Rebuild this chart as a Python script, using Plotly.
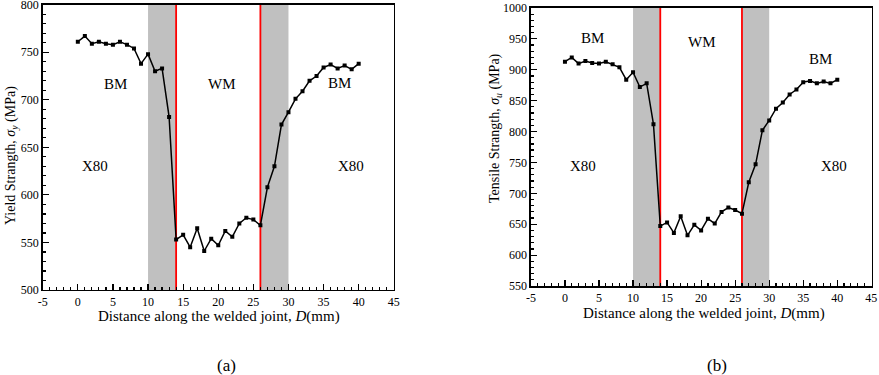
import plotly.graph_objects as go

distance = list(range(0, 41))
yield_strength = [761, 767, 759, 761, 759, 758, 761, 758, 754, 738, 748, 730, 733, 682,
                  553, 558, 545, 565, 541, 554, 547, 562, 556, 570, 576, 574, 568,
                  608, 630, 674, 687, 701, 709, 720, 725, 734, 737, 733, 736, 732, 738]
tensile_strength = [913, 920, 910, 914, 911, 910, 913, 909, 904, 884, 896, 872, 878, 812,
                    647, 653, 636, 663, 632, 649, 640, 659, 651, 670, 677, 673, 667,
                    718, 747, 802, 818, 837, 847, 860, 868, 880, 882, 878, 881, 878, 884]
haz_zones = [(10, 14), (26, 30)]
fusion_lines = [14, 26]
x_ticks = [-5, 0, 5, 10, 15, 20, 25, 30, 35, 40, 45]
x_tick_labels = ["-5", "0", "5", "10", "15", "20", "25", "30", "35", "40", "45"]

FONT = "Liberation Serif, Times New Roman, serif"

fig = go.Figure()
fig.add_trace(go.Scatter(x=distance, y=yield_strength, mode="lines+markers",
                         line=dict(color="black", width=1.5),
                         marker=dict(symbol="square", size=4, color="black"),
                         xaxis="x", yaxis="y", showlegend=False))
fig.add_trace(go.Scatter(x=distance, y=tensile_strength, mode="lines+markers",
                         line=dict(color="black", width=1.5),
                         marker=dict(symbol="square", size=4, color="black"),
                         xaxis="x2", yaxis="y2", showlegend=False))

shapes = []
for xr, yr in (("x", "y domain"), ("x2", "y2 domain")):
    for a, b in haz_zones:
        shapes.append(dict(type="rect", xref=xr, yref=yr, x0=a, x1=b, y0=0, y1=1,
                           fillcolor="#c0c0c0", line=dict(width=0), layer="below"))
    for xl in fusion_lines:
        shapes.append(dict(type="line", xref=xr, yref=yr, x0=xl, x1=xl, y0=0, y1=1,
                           line=dict(color="red", width=1.8), layer="below"))

axis_common = dict(showgrid=False, zeroline=False, showline=True, linecolor="black",
                   linewidth=1.5, mirror=True, ticks="inside", ticklen=6, tickwidth=1.2,
                   tickcolor="black", automargin=False, ticklabeloverflow="allow",
                   tickfont=dict(family=FONT, size=12, color="black"))

fig.update_layout(
    width=879, height=375, margin=dict(l=0, r=0, t=0, b=0),
    plot_bgcolor="white", paper_bgcolor="white",
    font=dict(family=FONT, color="black"),
    shapes=shapes,
    xaxis=dict(domain=[0.0486, 0.448], range=[-5, 45], tickvals=x_ticks, ticktext=x_tick_labels,
               anchor="y",
               minor=dict(dtick=1, ticks="inside", ticklen=3, tickcolor="black", tick0=0),
               **axis_common),
    yaxis=dict(domain=[0.2267, 0.9875], range=[500, 800], dtick=50, anchor="x",
               minor=dict(dtick=10, ticks="inside", ticklen=3, tickcolor="black"),
               **axis_common),
    xaxis2=dict(domain=[0.604, 0.9915], range=[-5, 45.03], tickvals=x_ticks, ticktext=x_tick_labels,
                anchor="y2",
                minor=dict(dtick=1, ticks="inside", ticklen=3, tickcolor="black", tick0=0),
                **axis_common),
    yaxis2=dict(domain=[0.2373, 0.9787], range=[550, 1000], dtick=50, anchor="x2",
                minor=dict(dtick=10, ticks="inside", ticklen=3, tickcolor="black"),
                **axis_common),
)

ann = []
def txt(x, y, s, xref, yref, size=15, angle=0):
    ann.append(dict(x=x, y=y, text=s, xref=xref, yref=yref, showarrow=False,
                    font=dict(family=FONT, size=size, color="black"), textangle=angle,
                    xanchor="center", yanchor="middle"))

# region labels
txt(5.3, 717, "BM", "x", "y")
txt(20.6, 717, "WM", "x", "y")
txt(37.3, 718, "BM", "x", "y")
txt(2.5, 630, "X80", "x", "y")
txt(38.9, 630, "X80", "x", "y")
txt(4.1, 952, "BM", "x2", "y2")
txt(20.2, 945, "WM", "x2", "y2")
txt(37.6, 917, "BM", "x2", "y2")
txt(2.7, 745, "X80", "x2", "y2")
txt(39.5, 745, "X80", "x2", "y2")

# axis titles
xt = "Distance along the welded joint, <i>D</i>(mm)"
txt(219 / 879, 1 - 316 / 375, xt, "paper", "paper", size=15)
txt(703.6 / 879, 1 - 313 / 375, xt, "paper", "paper", size=15)
txt(12 / 879, 1 - 156 / 375, "Yield Strangth, <i>σ<sub>y</sub></i> (MPa)", "paper", "paper", size=14, angle=-90)
txt(496 / 879, 1 - 128 / 375, "Tensile Strangth, <i>σ<sub>u</sub></i> (MPa)", "paper", "paper", size=14, angle=-90)

# captions
txt(226.7 / 879, 1 - 365 / 375, "(a)", "paper", "paper", size=17)
txt(716.7 / 879, 1 - 365 / 375, "(b)", "paper", "paper", size=17)

fig.update_layout(annotations=ann)
fig.write_html("out.html", config={"displayModeBar": False, "staticPlot": True},
               post_script="document.body.style.margin='0';document.body.style.overflow='hidden';")
